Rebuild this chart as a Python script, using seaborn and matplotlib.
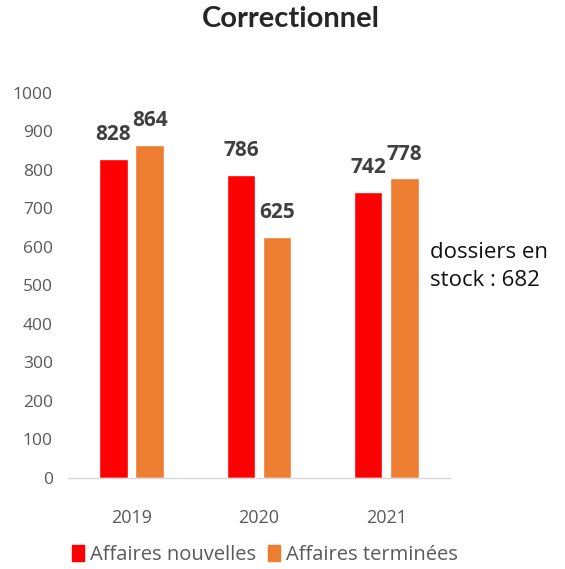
import pandas as pd
import matplotlib
matplotlib.use('Agg')
import matplotlib.pyplot as plt
import seaborn as sns

# data
years = ['2019', '2020', '2021']
nouvelles = [828, 786, 742]
terminees = [864, 625, 778]
series = ['Affaires nouvelles', 'Affaires terminées']
stock_note = 'dossiers en\nstock : 682'

df = pd.DataFrame({
    'Année': years * 2,
    'Valeur': nouvelles + terminees,
    'Série': [series[0]] * 3 + [series[1]] * 3,
})

sns.set_style('white')
plt.rcParams['font.family'] = ['Open Sans', 'DejaVu Sans']

fig = plt.figure(figsize=(5.65, 5.69), dpi=100)
ax = fig.add_axes([0.1204, 0.16, 0.676, 0.6766])

palette = {series[0]: '#FF0000', series[1]: '#ED7D31'}
sns.barplot(data=df, x='Année', y='Valeur', hue='Série', palette=palette,
            width=0.57, gap=0.21, saturation=1, ax=ax, legend=False)

ax.set_ylim(0, 1000)
ax.set_xlim(-0.5, 2.5)
ax.set_yticks(range(0, 1001, 100))
ax.tick_params(axis='y', length=0, labelsize=12.5, labelcolor='#595959', pad=11)
ax.tick_params(axis='x', length=0, labelsize=13, labelcolor='#595959', pad=22)
ax.set_xlabel('')
ax.set_ylabel('')
for s in ['top', 'right', 'left']:
    ax.spines[s].set_visible(False)
ax.spines['bottom'].set_color('#D9D9D9')
ax.spines['bottom'].set_linewidth(1)

for cont in ax.containers:
    ax.bar_label(cont, fmt='%d', padding=10, fontsize=15, fontweight='bold',
                 color='#404040')

fig.text(0.515, 0.967, 'Correctionnel', ha='center', va='center',
         fontsize=21, fontweight='bold', family=['Lato', 'DejaVu Sans'])

fig.text(0.761, 0.531, stock_note, ha='left', va='center', fontsize=16,
         color='#111111', linespacing=1.45)

handles = [plt.Rectangle((0, 0), 1, 1, color=palette[s]) for s in series]
fig.legend(handles, series, loc='center', bbox_to_anchor=(0.469, 0.0246),
           ncol=2, frameon=False, fontsize=14.5, labelcolor='#595959',
           handlelength=0.6, handleheight=0.85, handletextpad=0.3,
           columnspacing=0.6)

fig.savefig('out.png', dpi=100)
